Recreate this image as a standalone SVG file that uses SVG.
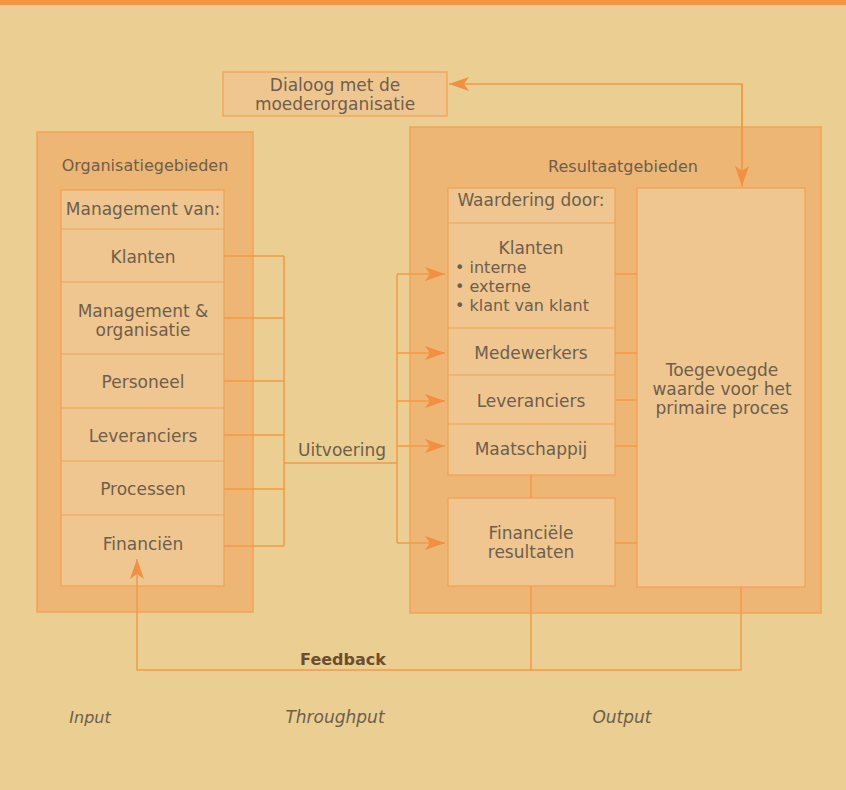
<svg xmlns="http://www.w3.org/2000/svg" width="846" height="790" viewBox="0 0 846 790">
<defs>
<marker id="arr" viewBox="0 0 20 14" refX="20" refY="7" markerWidth="20" markerHeight="14" markerUnits="userSpaceOnUse" orient="auto">
<path d="M0,0 L20,7 L0,14 L5,7 Z" fill="#F09040"/>
</marker>
</defs>
<style>
.bg{fill:#EACE92}
.outer{fill:#EDB674;stroke:#F2A456;stroke-width:1.5}
.inner{fill:#EFC690;stroke:#F2A050;stroke-width:1.2}
.row{stroke:#F2A050;stroke-width:1.2}
.ln{fill:none;stroke:#F29A45;stroke-width:1.5}
text{font-family:"DejaVu Sans","Liberation Sans",sans-serif;font-size:17px;fill:#6E5E4C;text-anchor:middle}
.t{font-size:16px}
.it{font-style:italic}
.b{font-weight:bold;fill:#6A4E2E;font-size:16px}
.l{text-anchor:start;font-size:16px}
</style>
<rect class="bg" x="0" y="0" width="846" height="790"/>
<rect x="0" y="0" width="846" height="5" fill="#EE9640"/>

<g id="dialoog">
<rect class="inner" x="223" y="72" width="224" height="44"/>
<text x="335" y="91">Dialoog met de</text>
<text x="335" y="110">moederorganisatie</text>
</g>

<g id="organisatiegebieden">
<rect class="outer" x="37" y="132" width="216" height="480"/>
<text class="t" x="145" y="171">Organisatiegebieden</text>
<rect class="inner" x="61" y="190" width="163" height="396"/>
<line class="row" x1="61" y1="229" x2="224" y2="229"/>
<line class="row" x1="61" y1="282" x2="224" y2="282"/>
<line class="row" x1="61" y1="354" x2="224" y2="354"/>
<line class="row" x1="61" y1="408" x2="224" y2="408"/>
<line class="row" x1="61" y1="461" x2="224" y2="461"/>
<line class="row" x1="61" y1="515" x2="224" y2="515"/>
</g>
<g id="mgmt-van"><text x="143" y="215">Management van:</text></g>
<g id="l-klanten"><text x="143" y="263">Klanten</text></g>
<g id="l-management"><text x="143" y="317">Management &amp;</text><text x="143" y="336">organisatie</text></g>
<g id="l-personeel"><text x="143" y="388">Personeel</text></g>
<g id="l-leveranciers"><text x="143" y="442">Leveranciers</text></g>
<g id="l-processen"><text x="143" y="495">Processen</text></g>
<g id="l-financien"><text x="143" y="550">Financiën</text></g>

<g id="resultaatgebieden">
<rect class="outer" x="410" y="127" width="411" height="486"/>
<text class="t" x="623" y="172">Resultaatgebieden</text>
<rect class="inner" x="448" y="188" width="167" height="287"/>
<line class="row" x1="448" y1="223" x2="615" y2="223"/>
<line class="row" x1="448" y1="328" x2="615" y2="328"/>
<line class="row" x1="448" y1="375" x2="615" y2="375"/>
<line class="row" x1="448" y1="424" x2="615" y2="424"/>
</g>
<g id="waardering"><text x="531" y="206">Waardering door:</text></g>
<g id="r-klanten">
<text x="531" y="254">Klanten</text>
<text class="l" x="455" y="273">• interne</text>
<text class="l" x="455" y="292">• externe</text>
<text class="l" x="455" y="311">• klant van klant</text>
</g>
<g id="r-medewerkers"><text x="531" y="359">Medewerkers</text></g>
<g id="r-leveranciers"><text x="531" y="407">Leveranciers</text></g>
<g id="r-maatschappij"><text x="531" y="455">Maatschappij</text></g>
<g id="r-financieel">
<rect class="inner" x="448" y="498" width="167" height="88"/>
<text x="531" y="539">Financiële</text>
<text x="531" y="558">resultaten</text>
</g>
<g id="toegevoegde">
<rect class="inner" x="637" y="188" width="168" height="399"/>
<text x="722" y="376">Toegevoegde</text>
<text x="722" y="395">waarde voor het</text>
<text x="722" y="414">primaire proces</text>
</g>

<g id="connectors">
<path class="ln" d="M224,256 H284 M224,318 H284 M224,381 H284 M224,435 H284 M224,489 H284 M224,546 H284 M284,256 V546"/>
<path class="ln" d="M284,463 H397 M397,274 V543"/>
<path class="ln" d="M397,274 H445" marker-end="url(#arr)"/>
<path class="ln" d="M397,353 H445" marker-end="url(#arr)"/>
<path class="ln" d="M397,401 H445" marker-end="url(#arr)"/>
<path class="ln" d="M397,446 H445" marker-end="url(#arr)"/>
<path class="ln" d="M397,543 H445" marker-end="url(#arr)"/>
<path class="ln" d="M615,274 H637 M615,353 H637 M615,400 H637 M615,446 H637 M615,543 H637"/>
<path class="ln" d="M531,475 V498"/>
<path class="ln" d="M742,187 V84 H449" marker-end="url(#arr)"/>
<path class="ln" d="M742,84 V186" marker-end="url(#arr)"/>
<path class="ln" d="M531,586 V670 M741,587 V670 H137 V559" marker-end="url(#arr)"/>
<text x="342" y="456">Uitvoering</text>
<text class="b" x="343" y="665">Feedback</text>
</g>

<text class="it t" x="90" y="723">Input</text>
<text class="it" x="335" y="723">Throughput</text>
<text class="it" x="622" y="723">Output</text>
</svg>
